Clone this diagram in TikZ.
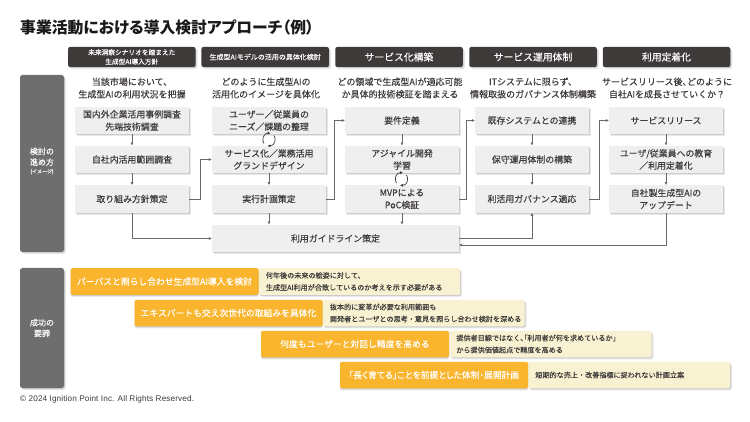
\documentclass[tikz,border=0pt]{standalone}
\usepackage{fontspec}
\setmainfont{Noto Sans CJK JP}[FakeBold=0.2,BoldFeatures={FakeBold=0}]
\newfontfamily\latinfont{Liberation Sans}[LetterSpace=1.5]
\newcommand{\tightpal}{\addfontfeature{RawFeature=+palt}}
\usepackage{xcolor}
\usetikzlibrary{shadows,arrows.meta,positioning}
\definecolor{headdark}{RGB}{62,58,57}
\definecolor{sidegray}{RGB}{110,110,110}
\definecolor{stepgray}{RGB}{239,239,239}
\definecolor{lineGray}{RGB}{105,105,105}
\definecolor{barorange}{RGB}{249,181,45}
\definecolor{barcream}{RGB}{249,242,210}
\tikzset{
  softshadow/.style={
    drop shadow={shadow xshift=0.9pt,shadow yshift=-1pt,opacity=0.12,fill=black},
    drop shadow={shadow xshift=2pt,shadow yshift=-2.2pt,opacity=0.09,fill=black}},
  downshadow/.style={
    drop shadow={shadow xshift=0pt,shadow yshift=-1pt,opacity=0.12,fill=black},
    drop shadow={shadow xshift=0pt,shadow yshift=-2.2pt,opacity=0.09,fill=black}},
  headbox/.style={fill=headdark,rounded corners=2pt,minimum width=127.5pt,minimum height=20pt,inner sep=0pt,text=white,align=center,softshadow},
  sidebox/.style={fill=sidegray,rounded corners=2.5pt,minimum width=44pt,inner sep=0pt,softshadow},
  sidetext/.style={text=white,align=center,inner sep=0pt,font=\fontsize{8}{10.7}\selectfont},
  stepbox/.style={fill=stepgray,minimum width=114pt,minimum height=27.5pt,inner sep=0pt,text=headdark,align=center,font=\fontsize{8.9}{12.3}\selectfont,softshadow},
  leadtext/.style={text=headdark,align=center,inner sep=0pt,font=\fontsize{9}{12.5}\selectfont},
  barlabel/.style={fill=barorange,rounded corners=1.5pt,minimum width=188pt,minimum height=26.5pt,inner sep=0pt,text=white,font=\fontsize{8.8}{11}\selectfont,downshadow},
  barnote/.style={fill=barcream,rounded corners=1.5pt,minimum width=202pt,minimum height=26.5pt,inner sep=0pt,softshadow},
  notetext/.style={text=headdark,align=left,inner sep=0pt,anchor=west,font=\fontsize{7.1}{12}\selectfont},
  link/.style={draw=lineGray,line width=0.7pt,-{Latex[length=3pt,width=3pt]}},
  cyclearc/.style={draw=headdark,line width=0.7pt,-{Latex[length=2.8pt,width=3pt]}}
}
\newcommand{\cycleicon}[2]{
  \draw[cyclearc] (#1-5,#2+4) .. controls (#1-7.5,#2+1) and (#1-6,#2-6.5) .. (#1+1.5,#2-6.3);
  \draw[cyclearc] (#1+5,#2-4) .. controls (#1+7.5,#2-1) and (#1+6,#2+6.5) .. (#1-1.5,#2+6.3);
}
\begin{document}
\begin{tikzpicture}[x=1pt,y=-1pt]
\useasboundingbox (0,0) rectangle (750,422);

% Title
\node[anchor=west,inner sep=0pt,text=black!90,font=\fontsize{15.8}{18}\selectfont\bfseries\tightpal] (title) at (20,27) {事業活動における導入検討アプローチ（例）};

% Headers
\node[headbox,font=\fontsize{6.7}{9.3}\selectfont] (head1) at (131.8,57) {未来洞察シナリオを踏まえた\\生成型AI導入方針};
\node[headbox,font=\fontsize{7}{9.5}\selectfont] (head2) at (265.2,57) {生成型AIモデルの活用の具体化検討};
\foreach \name/\x/\txt in {head3/399/サービス化構築, head4/533/サービス運用体制, head5/666.5/利用定着化} {
    \node[headbox,font=\fontsize{9.8}{12}\selectfont] (\name) at (\x,57) {\txt};
}

% Side boxes
\node[sidebox,minimum height=177pt] (sideplan) at (42,163.5) {};
\node[sidetext] (sideplantext) at (42,161) {検討の\\進め方\\[-2.5pt]{\fontsize{5}{6}\selectfont (イメージ)}};
\node[sidebox,minimum height=120pt] (sidekey) at (42,328) {};
\node[sidetext] (sidekeytext) at (42,328) {成功の\\要諦};

% Lead texts
\node[leadtext] (lead1) at (132,88) {当該市場において、\\生成型AIの利用状況を把握};
\node[leadtext] (lead2) at (266,88) {どのように生成型AIの\\活用化のイメージを具体化};
\node[leadtext] (lead3) at (400,88) {どの領域で生成型AIが適応可能\\か具体的技術検証を踏まえる};
\node[leadtext] (lead4) at (533,88) {ITシステムに限らず、\\情報取扱のガバナンス体制構築};
\node[leadtext] (lead5) at (667,88) {サービスリリース後{\tightpal 、}どのように\\自社AIを成長させていくか？};

% Steps
\node[stepbox] (s11) at (132,120.5) {国内外企業活用事例調査\\先端技術調査};
\node[stepbox] (s12) at (132,159.5) {自社内活用範囲調査};
\node[stepbox] (s13) at (132,199) {取り組み方針策定};
\node[stepbox] (s21) at (269,120.5) {ユーザー／従業員の\\ニーズ／課題の整理};
\node[stepbox] (s22) at (269,159.5) {サービス化／業務活用\\グランドデザイン};
\node[stepbox] (s23) at (269,199) {実行計画策定};
\node[stepbox] (s31) at (402,120.5) {要件定義};
\node[stepbox] (s32) at (402,159.5) {アジャイル開発\\学習};
\node[stepbox] (s33) at (402,199) {MVPによる\\PoC検証};
\node[stepbox] (s41) at (532,120.5) {既存システムとの連携};
\node[stepbox] (s42) at (532,159.5) {保守運用体制の構築};
\node[stepbox] (s43) at (532,199) {利活用ガバナンス適応};
\node[stepbox] (s51) at (666,120.5) {サービスリリース};
\node[stepbox] (s52) at (666,159.5) {ユーザ/従業員への教育\\／利用定着化};
\node[stepbox] (s53) at (666,199) {自社製生成型AIの\\アップデート};
\node[stepbox,minimum width=247pt] (guide) at (335.5,238.5) {利用ガイドライン策定};
\coordinate (guidein) at (459,245);

% Links
\draw[link] (s11) -- (s12);
\draw[link] (s12) -- (s13);
\draw[link] (s22) -- (s23);
\draw[link] (s31) -- (s32);
\draw[link] (s41) -- (s42);
\draw[link] (s42) -- (s43);
\draw[link] (s51) -- (s52);
\draw[link] (s52) -- (s53);
\draw[link] (s23) -- (s23 |- guide.north);
\draw[link] (s33) -- (s33 |- guide.north);
\draw[link] (s13.east) -- ++(11.5,0) |- (s22.west);
\draw[link] (s23.east) -- ++(8.5,0) |- (s31.west);
\draw[link] (s33.east) -- ++(7,0) |- (s41.west);
\draw[link] (s43.east) -- ++(10,0) |- (s51.west);
\draw[link] (s13.south) |- (guide.west);
\draw[link] (guide.east) -| (s43.south);
\draw[link] (s53.south) |- (guidein);

% Cycle icons
\cycleicon{269}{139.5}
\cycleicon{401.5}{179}

% Success factors
\foreach \row/\xa/\xb/\y/\txt in {
    a/164.5/359/281.5/パーパスと照らし合わせ生成型AI導入を検討,
    b/228.5/423.5/313/エキスパートも交え次世代の取組みを具体化,
    c/355/550.5/344/何度もユーザーと対話し精度を高める,
    d/434/629/375/{\tightpal 「長く育てる」ことを前提とした体制・展開計画}} {
    \node[barnote] (note\row) at (\xb,\y) {};
    \node[barlabel] (bar\row) at (\xa,\y) {\txt};
}
\node[notetext] (texta) at ([xshift=7pt]bara.east) {何年後の未来の絵姿に対して、\\生成型AI利用が合致しているのか考えを示す必要がある};
\node[notetext] (textb) at ([xshift=7pt]barb.east) {抜本的に変革が必要な利用範囲も\\開発者とユーザとの思考・意見を照らし合わせ検討を深める};
\node[notetext] (textc) at ([xshift=7pt]barc.east) {提供者目線ではなく{\tightpal 、「}利用者が何を求めているか」\\から提供価値起点で精度を高める};
\node[notetext] (textd) at ([xshift=7pt]bard.east) {短期的な売上・改善指標に捉われない計画立案};

% Footer
\node[anchor=west,inner sep=0pt,text=headdark,font=\latinfont\fontsize{8.2}{9}\selectfont] (footer) at (20,399.5) {© 2024 Ignition Point Inc. All Rights Reserved.};
\end{tikzpicture}
\end{document}
